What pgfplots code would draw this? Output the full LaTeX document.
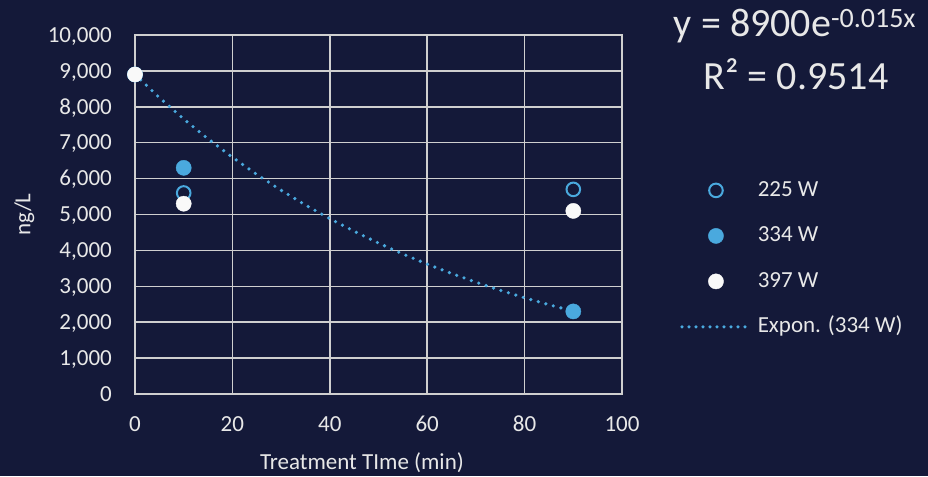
\documentclass[border=0pt]{standalone}
\usepackage{fontspec}
\setmainfont{Carlito}
\usepackage{pgfplots}
\pgfplotsset{compat=1.18}
\definecolor{bg}{HTML}{141939}
\definecolor{ser}{HTML}{4AA9DE}
\definecolor{grd}{HTML}{CFCFCF}
\definecolor{txt}{HTML}{E8E8E8}
\pgfplotsset{
  markleg/.style={legend image code/.code={\pgfpathrectangle{\pgfpoint{0pt}{-1pt}}{\pgfpoint{70pt}{2pt}}\pgfusepath{use as bounding box}\path[##1,draw=none] plot[only marks] coordinates {(35pt,0pt)};}},
  lineleg/.style={legend image code/.code={\draw[##1, dash pattern=on 0pt off 7pt] (1pt,0pt) -- (70pt,0pt);}},
}
\begin{document}
\begin{tikzpicture}[x=1pt,y=1pt]
\fill[bg] (0,0) rectangle (928,476);
\begin{axis}[
  scale only axis, width=487pt, height=359pt,
  at={(135pt,82pt)}, anchor=south west,
  xmin=0, xmax=100, ymin=0, ymax=10000,
  xtick={0,20,...,100}, ytick={0,1000,...,10000},
  grid=major, major grid style={draw=grd, line width=1.6pt},
  axis line style={draw=grd, line width=1.6pt},
  tick style={draw=none},
  ticklabel style={font=\fontsize{23}{27}\selectfont, text=txt, inner sep=0pt},
  xticklabel style={anchor=base, yshift=-37pt},
  yticklabel style={anchor=base east, xshift=-23pt, yshift=-7.3pt},
  /pgf/number format/assume math mode=true,
  /pgf/number format/1000 sep={,},
  scaled y ticks=false,
  xlabel={Treatment TIme (min)}, ylabel={ng/L},
  label style={font=\fontsize{23}{27}\selectfont, text=txt},
  xlabel style={at={(rel axis cs:0.466,-0.192)}, anchor=center},
  ylabel style={at={(rel axis cs:-0.227,0.5)}, anchor=center},
  clip=false,
  legend style={draw=none, fill=none, at={(rel axis cs:1.119,0.377)}, anchor=west,
    inner sep=0pt, row sep=23.5pt,
    nodes={text=txt, font=\fontsize{23}{27}\selectfont, text height=17pt, text depth=5pt, inner ysep=0pt, inner xsep=5pt}},
  legend cell align=left,
]
\addplot[only marks, mark=o, mark size=6.8pt, mark options={draw=ser, line width=2pt, fill=none}, markleg]
  coordinates {(0,8900) (10,5600) (90,5700)};
\addlegendentry{225 W}
\addplot[only marks, mark=*, mark size=7.6pt, mark options={draw=ser, fill=ser}, markleg]
  coordinates {(0,8900) (10,6300) (90,2300)};
\addlegendentry{334 W}
\addplot[only marks, mark=*, mark size=7.6pt, mark options={draw=white!95!gray, fill=white!95!gray}, markleg]
  coordinates {(0,8900) (10,5300) (90,5100)};
\addlegendentry{397 W}
\addplot[no marks, draw=ser, line width=3.6pt, line cap=round, dash pattern=on 0pt off 7.8pt, lineleg]
  coordinates {(0,8900) (5,8257) (10,7660) (15,7107) (20,6593) (25,6117) (30,5675) (35,5265)
    (40,4884) (45,4532) (50,4204) (55,3900) (60,3618) (65,3357) (70,3114) (75,2889)
    (80,2681) (85,2487) (90,2307)};
\addlegendentry{Expon. (334 W)}
\end{axis}
\node[text=txt, font=\fontsize{40}{44}\selectfont, anchor=base, inner sep=0pt] at (795,439) {y = 8900e\textsuperscript{-0.015x}};
\node[text=txt, font=\fontsize{40}{44}\selectfont, anchor=base, inner sep=0pt] at (796,386) {R² = 0.9514};
\end{tikzpicture}
\end{document}
